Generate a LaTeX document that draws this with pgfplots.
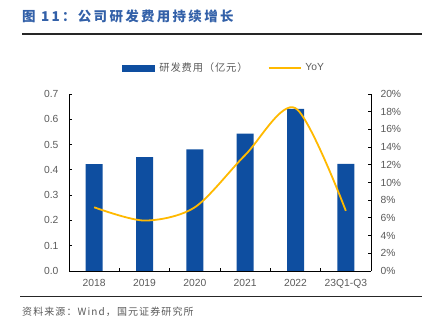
\documentclass[border=0pt]{standalone}
\usepackage{fontspec}
\setmainfont{Liberation Sans}
\newfontfamily\cjk{Noto Sans CJK SC}
\usepackage{pgfplots}
\pgfplotsset{compat=1.18}
\definecolor{barblue}{RGB}{14,78,160}
\definecolor{gold}{RGB}{255,185,0}
\definecolor{titleblue}{RGB}{50,96,168}
\definecolor{lbl}{RGB}{90,90,90}
\begin{document}
\begin{tikzpicture}[x=1pt,y=1pt]
\path[use as bounding box] (0,0) rectangle (431,323);
\draw[line width=1.2pt, black!85] (22,289) -- (422,289);
\draw[line width=1pt, black!85] (20,26) -- (422,26);
\node[anchor=west, text=titleblue, inner sep=0pt, font=\fontsize{13.5}{15}\selectfont\cjk\bfseries\addfontfeatures{LetterSpace=17}] at (22,307) {图 11：公司研发费用持续增长};
\node[anchor=west, text=lbl, inner sep=0pt, font=\fontsize{10}{12}\selectfont\cjk\addfontfeatures{LetterSpace=11}] at (22,11) {资料来源：Wind，国元证券研究所};

\begin{axis}[
  at={(69pt,52pt)}, anchor=south west, scale only axis,
  width=302pt, height=177pt,
  xmin=-0.5, xmax=5.5, ymin=0, ymax=0.7,
  axis x line*=bottom, axis y line*=left,
  axis line style={black, line width=0.9pt},
  tick align=inside, major tick length=3pt,
  tick style={black, line width=0.8pt},
  xtick={-0.5,0.5,1.5,2.5,3.5,4.5,5.5},
  x tick label as interval,
  xticklabels={2018,2019,2020,2021,2022,23Q1-Q3},
  ytick={0,0.1,0.2,0.3,0.4,0.5,0.6,0.7},
  /pgf/number format/fixed, /pgf/number format/fixed zerofill, /pgf/number format/precision=1,
  /pgf/number format/assume math mode=true,
  ticklabel style={font=\fontsize{10.3}{12}\selectfont, text=lbl},
  yticklabel style={xshift=-7pt},
  xticklabel style={yshift=-5pt},
]
\addplot[ybar, bar width=17pt, fill=barblue, draw=none] coordinates {
 (0,0.423) (1,0.450) (2,0.481) (3,0.543) (4,0.641) (5,0.424)
};
\end{axis}

\begin{axis}[
  at={(69pt,52pt)}, anchor=south west, scale only axis,
  width=302pt, height=177pt,
  xmin=-0.5, xmax=5.5, ymin=0, ymax=0.2,
  axis y line*=right, axis x line=none,
  axis line style={black, line width=0.9pt},
  tick align=inside, major tick length=3pt,
  tick style={black, line width=0.8pt},
  ytick={0,0.02,0.04,0.06,0.08,0.10,0.12,0.14,0.16,0.18,0.20},
  yticklabels={0\%,2\%,4\%,6\%,8\%,10\%,12\%,14\%,16\%,18\%,20\%},
  /pgf/number format/assume math mode=true,
  ticklabel style={font=\fontsize{10.3}{12}\selectfont, text=lbl},
  yticklabel style={xshift=6pt},
  legend style={at={(axis description cs:0.5,1)}, anchor=center, yshift=26pt, xshift=4pt,
    draw=none, fill=none, font=\fontsize{10.3}{12}\selectfont, text=lbl},
  legend columns=2,
  legend cell align=left,
  /tikz/every even column/.append style={column sep=18pt},
]
\addlegendimage{legend image code/.code={\fill[barblue] (0pt,-3pt) rectangle (32pt,3pt); \path (35pt,0pt);}}
\addlegendentry{\cjk\addfontfeatures{LetterSpace=8}研发费用（亿元）}
\addplot[gold, line width=1.8pt, smooth, no markers,
  legend image code/.code={\draw[gold, line width=1.8pt] (0pt,0pt) -- (32pt,0pt); \path (34pt,0pt);}] coordinates {
 (0,0.072) (1,0.057) (2,0.072) (3,0.131) (4,0.184) (5,0.068)
};
\addlegendentry{YoY}
\end{axis}
\end{tikzpicture}
\end{document}
